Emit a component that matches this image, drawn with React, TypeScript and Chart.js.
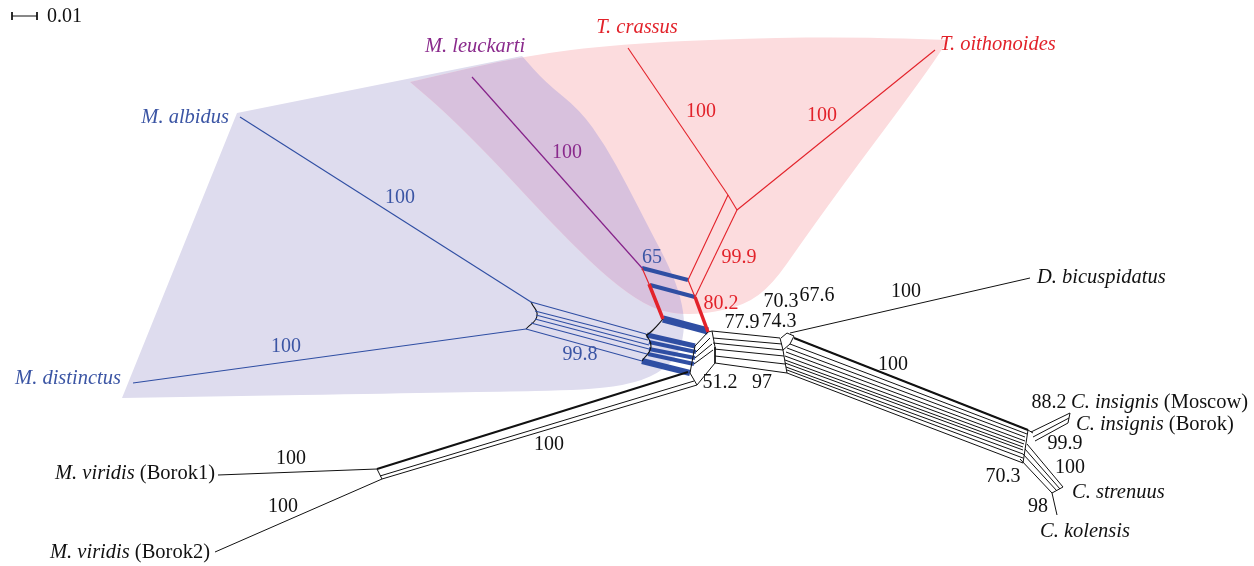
import React, { useEffect, useRef } from "react";
import { Chart, registerables } from "chart.js";

Chart.register(...registerables);

// ---------- Plane extent (network layout units) ----------
const planeX = [0, 1254];
const planeY = [0, 566];

// ---------- Shaded groups: [x, y, sharpCorner] ----------
const blueGroup: number[][] = [
  [237, 113, 1], [522, 56, 1], [545, 82, 0], [580, 110, 0], [605, 145, 0], [627, 185, 0],
  [650, 230, 0], [670, 268, 0], [681, 298, 0], [685, 325, 0], [680, 352, 0], [664, 370, 0],
  [636, 383, 0], [590, 390, 0], [480, 392, 0], [122, 398, 1],
];
const pinkGroup: number[][] = [
  [410, 82, 1], [522, 56, 0], [620, 44, 0], [750, 38, 0], [860, 37, 0], [948, 40, 1],
  [935, 60, 0], [915, 88, 0], [890, 122, 0], [860, 162, 0], [830, 203, 0], [802, 242, 0],
  [772, 285, 0], [745, 305, 0], [705, 314, 0], [672, 314, 0], [645, 305, 0], [610, 280, 0],
  [570, 242, 0], [530, 200, 0], [493, 160, 0], [445, 112, 0],
];

// ---------- Edges: [x1, y1, x2, y2] ----------
const blueThin: number[][] = [
  [240, 117, 531, 302],
  [133, 383, 526, 329],
  [531, 302, 646, 334],
  [535, 311, 648, 340],
  [536, 315, 649, 345],
  [535, 319, 649, 349],
  [531, 323, 647, 354],
  [526, 329, 642, 361],
];
const blueThick: number[][] = [
  [642, 268, 688, 280, 4],
  [650, 285, 695, 297, 4],
  [663, 319, 708, 331, 7],
  [647, 335, 695, 346, 5],
  [649, 342, 696, 352, 4],
  [649, 349, 695, 358, 4],
  [648, 354, 694, 364, 4],
  [642, 361, 690, 373, 6],
];
const purpleThin: number[][] = [[472, 77, 642, 268]];
const redThin: number[][] = [
  [628, 48, 728, 195],
  [935, 50, 737, 210],
  [728, 195, 737, 210],
  [728, 195, 688, 280],
  [737, 210, 695, 297],
  [688, 280, 695, 297],
  [642, 268, 649, 284],
];
const redThick: number[][] = [
  [649, 284, 663, 319],
  [695, 297, 708, 332],
];
const blackThin: number[][] = [
  // central box
  [708, 332, 695, 346],
  [696, 352, 710, 338],
  [695, 358, 712, 344],
  [694, 364, 713, 350],
  [690, 373, 697, 385],
  [697, 385, 706, 374],
  [706, 374, 715, 363],
  [695, 346, 690, 373],
  [708, 332, 712, 331],
  [712, 331, 715, 347],
  [715, 347, 715, 363],
  // band to D / C node
  [712, 331, 780, 338],
  [713, 338, 782, 344],
  [713, 343, 783, 350],
  [714, 349, 784, 356],
  [715, 356, 785, 364],
  [715, 363, 787, 373],
  [780, 338, 783, 350],
  [783, 350, 785, 362],
  [785, 362, 787, 373],
  [781, 338, 787, 333],
  [787, 333, 794, 336],
  [794, 336, 790, 344],
  [790, 344, 783, 350],
  // D. bicuspidatus
  [790, 333, 1030, 278],
  // long band to Cyclops
  [794, 338, 1028, 430],
  [790, 344, 1027, 434],
  [787, 348, 1025, 437],
  [786, 352, 1025, 441],
  [785, 356, 1024, 444],
  [785, 360, 1023, 447],
  [785, 363, 1023, 450],
  [786, 367, 1023, 454],
  [787, 370, 1023, 458],
  [787, 373, 1023, 463],
  [1028, 430, 1023, 463],
  [1028, 430, 1033, 433],
  // C. insignis
  [1031, 432, 1070, 413],
  [1033, 437, 1069, 418],
  [1035, 441, 1068, 423],
  [1070, 413, 1068, 423],
  // C. strenuus / kolensis
  [1027, 444, 1063, 487],
  [1025, 449, 1060, 489],
  [1023, 454, 1057, 491],
  [1020, 459, 1052, 493],
  [1063, 487, 1052, 493],
  [1052, 493, 1057, 515],
  // M. viridis
  [694, 381, 380, 476],
  [697, 385, 382, 479],
  [377, 469, 382, 479],
  [218, 475, 377, 469],
  [215, 552, 382, 479],
  // scale bar
  [12, 16, 37, 16],
  [12, 12, 12, 20],
  [37, 12, 37, 20],
];
const blackBold: number[][] = [[688, 372, 377, 469], [794, 338, 1028, 430]];
const blackCurves: number[][] = [
  [531, 302, 537, 316, 526, 329],
  [663, 319, 653, 330, 647, 335],
  [646, 334, 651, 347, 642, 361],
];

// ---------- Labels ----------
const taxa = [
  { it: "M. albidus", rm: "", x: 229, y: 118, align: "right", color: "#3b55a4" },
  { it: "M. distinctus", rm: "", x: 121, y: 379, align: "right", color: "#3b55a4" },
  { it: "M. leuckarti", rm: "", x: 475, y: 47, align: "center", color: "#8a2a8c" },
  { it: "T. crassus", rm: "", x: 637, y: 28, align: "center", color: "#e2222a" },
  { it: "T. oithonoides", rm: "", x: 940, y: 45, align: "left", color: "#e2222a" },
  { it: "D. bicuspidatus", rm: "", x: 1037, y: 278, align: "left", color: "#111" },
  { it: "C. insignis", rm: " (Moscow)", x: 1071, y: 403, align: "left", color: "#111" },
  { it: "C. insignis", rm: " (Borok)", x: 1076, y: 425, align: "left", color: "#111" },
  { it: "C. strenuus", rm: "", x: 1072, y: 493, align: "left", color: "#111" },
  { it: "C. kolensis", rm: "", x: 1040, y: 532, align: "left", color: "#111" },
  { it: "M. viridis", rm: " (Borok1)", x: 215, y: 474, align: "right", color: "#111" },
  { it: "M. viridis", rm: " (Borok2)", x: 210, y: 553, align: "right", color: "#111" },
];
const supportText = ["100", "100", "99.8", "100", "65", "100", "100", "99.9", "80.2", "70.3", "67.6", "77.9", "74.3", "100", "100", "51.2", "97", "100", "100", "100", "88.2", "99.9", "100", "70.3", "98"];
const supportX = [400, 286, 580, 567, 652, 701, 822, 739, 721, 781, 817, 742, 779, 906, 893, 720, 762, 549, 291, 283, 1049, 1065, 1070, 1003, 1038];
const supportY = [198, 347, 355, 153, 258, 112, 116, 258, 304, 302, 296, 323, 322, 292, 365, 383, 383, 445, 459, 507, 403, 444, 468, 477, 507];
const supportColor = ["#3b55a4", "#3b55a4", "#3b55a4", "#8a2a8c", "#3b55a4", "#e2222a", "#e2222a", "#e2222a", "#e2222a", "#111", "#111", "#111", "#111", "#111", "#111", "#111", "#111", "#111", "#111", "#111", "#111", "#111", "#111", "#111", "#111"];
const scaleBarText = "0.01";

const FONT = '"Liberation Serif", "DejaVu Serif", serif';

function seg(e: number[], color: string, width: number, tension = 0) {
  const data: { x: number; y: number }[] = [];
  for (let i = 0; i + 1 < e.length; i += 2) data.push({ x: e[i], y: e[i + 1] });
  return {
    data,
    showLine: true,
    borderColor: color,
    backgroundColor: color,
    borderWidth: width,
    pointRadius: 0,
    tension,
    fill: false,
  };
}

const groupPlugin = {
  id: "groups",
  beforeDatasetsDraw(chart: any) {
    const { ctx, scales } = chart;
    const sx = scales.x, sy = scales.y;
    const pathOf = (pts: number[][]) => {
      const P = pts.map((p) => [sx.getPixelForValue(p[0]), sy.getPixelForValue(p[1]), p[2]]);
      const n = P.length;
      const mid = (a: number[], b: number[]) => [(a[0] + b[0]) / 2, (a[1] + b[1]) / 2];
      ctx.beginPath();
      const start = mid(P[n - 1], P[0]);
      ctx.moveTo(start[0], start[1]);
      for (let i = 0; i < n; i++) {
        const p = P[i];
        const m = mid(p, P[(i + 1) % n]);
        if (p[2]) {
          ctx.lineTo(p[0], p[1]);
          ctx.lineTo(m[0], m[1]);
        } else {
          ctx.quadraticCurveTo(p[0], p[1], m[0], m[1]);
        }
      }
      ctx.closePath();
    };
    ctx.save();
    pathOf(blueGroup);
    ctx.fillStyle = "rgb(222,220,238)";
    ctx.fill();
    pathOf(pinkGroup);
    ctx.fillStyle = "rgb(252,220,222)";
    ctx.fill();
    pathOf(blueGroup);
    ctx.clip();
    pathOf(pinkGroup);
    ctx.fillStyle = "rgb(216,193,221)";
    ctx.fill();
    ctx.restore();
  },
};

const textPlugin = {
  id: "texts",
  afterDatasetsDraw(chart: any) {
    const { ctx, scales } = chart;
    const sx = scales.x, sy = scales.y;
    ctx.save();
    ctx.textBaseline = "middle";
    const itFont = `italic 20.5px ${FONT}`;
    const rmFont = `20.5px ${FONT}`;
    taxa.forEach((t) => {
      ctx.font = itFont;
      const w1 = ctx.measureText(t.it).width;
      ctx.font = rmFont;
      const w2 = t.rm ? ctx.measureText(t.rm).width : 0;
      const w = w1 + w2;
      let x0 = sx.getPixelForValue(t.x);
      if (t.align === "right") x0 -= w;
      else if (t.align === "center") x0 -= w / 2;
      const y = sy.getPixelForValue(t.y);
      ctx.fillStyle = t.color;
      ctx.textAlign = "left";
      ctx.font = itFont;
      ctx.fillText(t.it, x0, y);
      if (t.rm) {
        ctx.font = rmFont;
        ctx.fillText(t.rm, x0 + w1, y);
      }
    });
    ctx.font = `20px ${FONT}`;
    ctx.textAlign = "center";
    supportText.forEach((s, i) => {
      ctx.fillStyle = supportColor[i];
      ctx.fillText(s, sx.getPixelForValue(supportX[i]), sy.getPixelForValue(supportY[i]));
    });
    ctx.textAlign = "left";
    ctx.fillStyle = "#111";
    ctx.font = `20px ${FONT}`;
    ctx.fillText(scaleBarText, sx.getPixelForValue(47), sy.getPixelForValue(17));
    ctx.restore();
  },
};

export default function App() {
  const ref = useRef<HTMLCanvasElement | null>(null);
  useEffect(() => {
    if (!ref.current) return;
    const datasets: any[] = [];
    blueThin.forEach((e) => datasets.push(seg(e, "#2f4ea3", 1.1)));
    purpleThin.forEach((e) => datasets.push(seg(e, "#86238a", 1.2)));
    redThin.forEach((e) => datasets.push(seg(e, "#e3222a", 1.1)));
    redThick.forEach((e) => datasets.push(seg(e, "#e3222a", 3.5)));
    blackThin.forEach((e) => datasets.push(seg(e, "#111", 1)));
    blackBold.forEach((e) => datasets.push(seg(e, "#111", 2)));
    blackCurves.forEach((e) => datasets.push(seg(e, "#111", 1.1, 0.5)));
    blueThick.forEach((e) => datasets.push(seg(e.slice(0, 4), "#2f4ea3", e[4])));
    const chart = new Chart(ref.current, {
      type: "scatter",
      data: { datasets },
      options: {
        animation: false,
        responsive: false,
        maintainAspectRatio: false,
        devicePixelRatio: 1,
        events: [],
        layout: { padding: 0 },
        scales: {
          x: { type: "linear", min: planeX[0], max: planeX[1], display: false },
          y: { type: "linear", min: planeY[0], max: planeY[1], reverse: true, display: false },
        },
        plugins: { legend: { display: false }, tooltip: { enabled: false } },
      },
      plugins: [groupPlugin, textPlugin],
    } as any);
    return () => chart.destroy();
  }, []);
  return (
    <div style={{ position: "absolute", left: 0, top: 0, width: 1254, height: 566, background: "#fff" }}>
      <canvas ref={ref} width={1254} height={566} style={{ display: "block" }} />
    </div>
  );
}
